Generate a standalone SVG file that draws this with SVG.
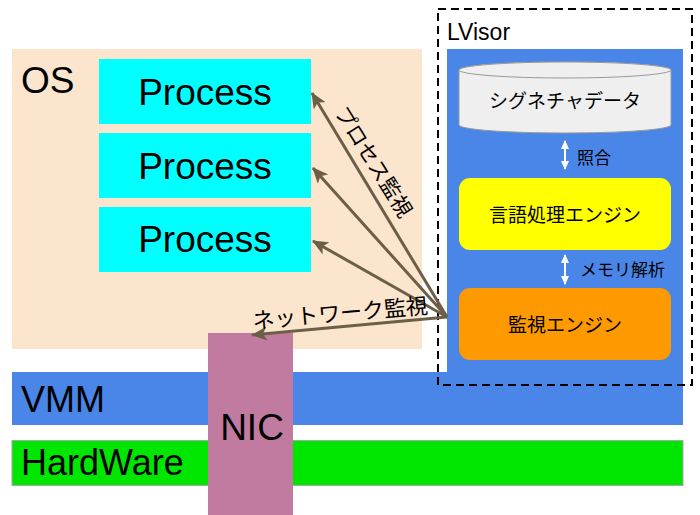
<svg xmlns="http://www.w3.org/2000/svg" width="700" height="515" viewBox="0 0 700 515">
<defs>
<style>
.lat{font-family:"Liberation Sans",Arial,sans-serif;fill:#000}
.jp{font-family:"Noto Sans CJK JP","Noto Sans",sans-serif;fill:#000}
.proc{fill:#00ffff}
.ptxt{font-size:37px;text-anchor:middle}
.conn{stroke:#6d5f47;stroke-width:3;fill:none;marker-end:url(#ah)}
.wa{stroke:#fff;stroke-width:2;fill:none;marker-start:url(#wh);marker-end:url(#wh)}
.eng{font-size:19px;text-anchor:middle}
</style>
<marker id="ah" markerUnits="userSpaceOnUse" markerWidth="18" markerHeight="14" refX="15" refY="7" orient="auto">
<path d="M0,0 L16,7 L0,14 L4,7 Z" fill="#6d5f47"/>
</marker>
<marker id="wh" markerUnits="userSpaceOnUse" markerWidth="10" markerHeight="10" refX="8" refY="4" orient="auto-start-reverse">
<path d="M0,0 L9,4 L0,8 Z" fill="#fff"/>
</marker>
</defs>
<rect width="700" height="515" fill="#fff"/>

<g id="os">
<rect x="12" y="49" width="410" height="300" fill="#fce5cd"/>
<text class="lat" x="21" y="93" font-size="37">OS</text>
</g>
<g id="process1">
<rect class="proc" x="99" y="59" width="212" height="65"/>
<text class="lat ptxt" x="205" y="105">Process</text>
</g>
<g id="process2">
<rect class="proc" x="99" y="133" width="212" height="65"/>
<text class="lat ptxt" x="205" y="179">Process</text>
</g>
<g id="process3">
<rect class="proc" x="99" y="207" width="212" height="65"/>
<text class="lat ptxt" x="205" y="252">Process</text>
</g>

<g id="vmm">
<rect x="12" y="372" width="671" height="53" fill="#4a86e8"/>
<text class="lat" x="21" y="412" font-size="36">VMM</text>
</g>
<g id="hardware">
<rect x="12" y="440.5" width="671" height="45" fill="#00e600" stroke="#a6a6a6" stroke-width="1"/>
<text class="lat" x="21" y="475" font-size="36">HardWare</text>
</g>

<g id="lvisor">
<rect x="447" y="49" width="236" height="324" fill="#4a86e8"/>
<rect x="438" y="9" width="254" height="376" fill="none" stroke="#000" stroke-width="2" stroke-dasharray="8,5"/>
<text class="lat" x="447" y="40" font-size="23">LVisor</text>
</g>
<g id="signature">
<path d="M459,70 V125 A106,8 0 0 0 671,125 V70 A106,8 0 0 0 459,70 Z" fill="#efefef" stroke="#999" stroke-width="1"/>
<ellipse cx="565" cy="70" rx="106" ry="8" fill="#efefef" stroke="#999" stroke-width="1"/>
<text class="jp eng" x="565" y="108">シグネチャデータ</text>
</g>
<g id="lang-engine">
<rect x="459" y="178" width="212" height="72" rx="11" fill="#ffff00"/>
<text class="jp eng" x="565" y="222">言語処理エンジン</text>
</g>
<g id="mon-engine">
<rect x="459" y="288" width="212" height="72" rx="11" fill="#ff9900"/>
<text class="jp eng" x="565" y="332">監視エンジン</text>
</g>

<g id="nic">
<rect x="208" y="333" width="85" height="182" fill="#c27ba0"/>
<text class="lat" x="252" y="440" font-size="37" text-anchor="middle">NIC</text>
</g>

<g id="connectors">
<line class="wa" x1="565" y1="141" x2="565" y2="169"/>
<line class="wa" x1="565" y1="255" x2="565" y2="284"/>
<line class="conn" x1="447" y1="317" x2="312" y2="93"/>
<line class="conn" x1="447" y1="317" x2="313" y2="168"/>
<line class="conn" x1="447" y1="317" x2="313" y2="241"/>
<line class="conn" x1="447" y1="317" x2="252" y2="335"/>
<text class="jp" x="577" y="164" font-size="17">照合</text>
<text class="jp" x="580" y="276" font-size="17">メモリ解析</text>
<text class="jp" x="375" y="161" font-size="21" text-anchor="middle" dominant-baseline="central" transform="rotate(58 375 161)">プロセス監視</text>
<text class="jp" x="340" y="311" font-size="22" text-anchor="middle" dominant-baseline="central" transform="rotate(-5 340 311)">ネットワーク監視</text>
</g>
</svg>
